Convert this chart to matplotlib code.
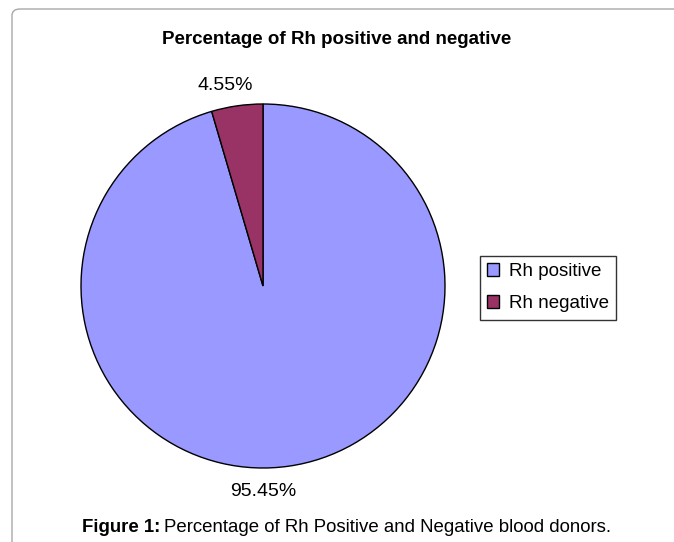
import matplotlib
matplotlib.use("Agg")
import matplotlib.pyplot as plt
from matplotlib.patches import FancyBboxPatch

plt.rcParams["font.family"] = ["Liberation Sans", "DejaVu Sans"]

labels = ["Rh positive", "Rh negative"]
values = [95.45, 4.55]
colors = ["#9999FF", "#993366"]
title = "Percentage of Rh positive and negative"
caption_bold = "Figure 1:"
caption_text = "Percentage of Rh Positive and Negative blood donors."

W, H = 674, 542
fig = plt.figure(figsize=(W / 100, H / 100), dpi=100)

# outer light-grey rounded frame (runs off the right and bottom edges)
frame = FancyBboxPatch((12 / W, -0.2), 1.2, (H - 9) / H + 0.2,
                       boxstyle="round,pad=0,rounding_size=0.012",
                       transform=fig.transFigure, fc="none", ec="#a8a8a8", lw=1.0, zorder=-1)
fig.patches.append(frame)

# pie axes: centre (263, 286), radius 182 px
cx, cy, r = 263, 286, 182
ax = fig.add_axes([(cx - r) / W, (H - cy - r) / H, 2 * r / W, 2 * r / H])
wedges, _ = ax.pie(values, colors=colors, startangle=90, counterclock=False,
                   wedgeprops=dict(edgecolor="black", linewidth=1.0))
ax.set_xlim(-1, 1)
ax.set_ylim(-1, 1)

# value labels
ax.text(-0.21, 1.10, f"{values[1]:.2f}%", ha="center", va="center", fontsize=14)
ax.text(0.0, -1.13, f"{values[0]:.2f}%", ha="center", va="center", fontsize=14)

fig.text(337 / W, 1 - 40 / H, title, ha="center", va="center", fontsize=13.5, fontweight="bold")

leg = fig.legend(wedges, labels, loc="center", bbox_to_anchor=(548 / W, 1 - 287.5 / H),
                 fontsize=13.5, frameon=True, fancybox=False, edgecolor="black",
                 handlelength=0.65, handleheight=0.65, handletextpad=0.5,
                 borderpad=0.4, labelspacing=0.8, borderaxespad=0)
leg.get_frame().set_linewidth(1.0)

t1 = fig.text(82 / W, 1 - 527 / H, caption_bold, ha="left", va="center",
              fontsize=13.4, fontweight="bold")
fig.canvas.draw()
bb = t1.get_window_extent()
fig.text((bb.x1 + 4) / W, 1 - 527 / H, caption_text,
         ha="left", va="center", fontsize=13.4)

fig.savefig("out.png", dpi=100)
